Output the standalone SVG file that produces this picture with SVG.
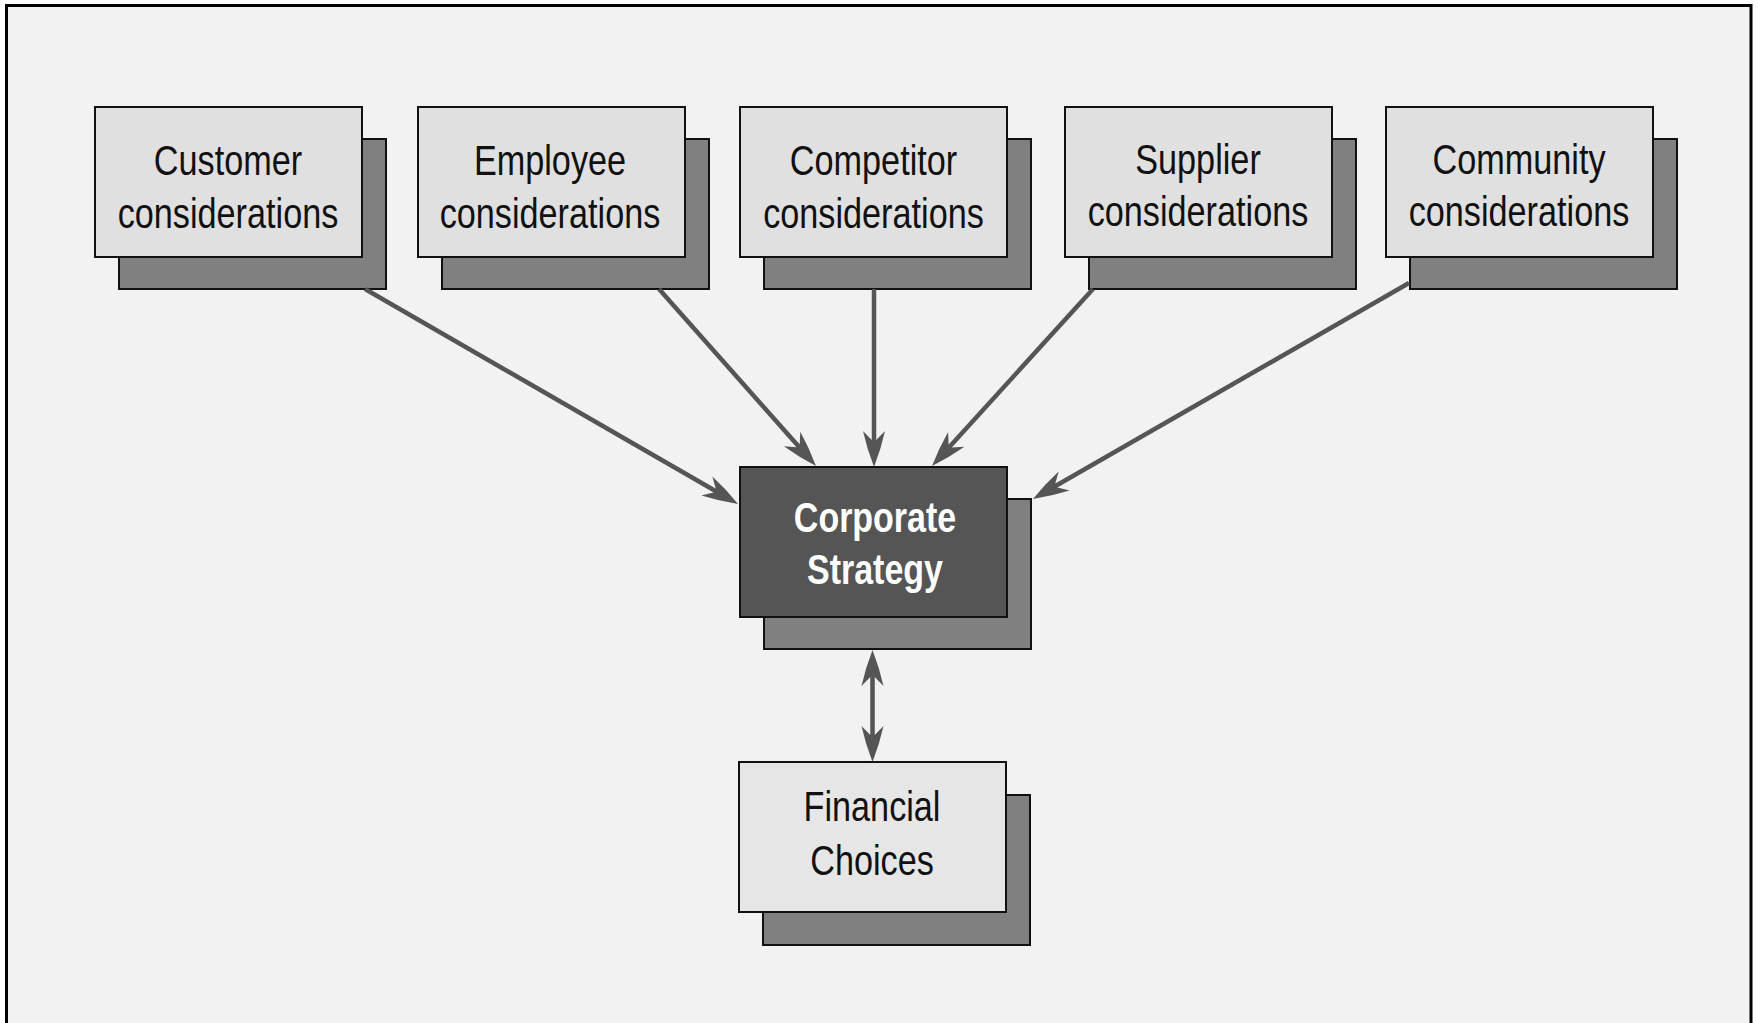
<svg xmlns="http://www.w3.org/2000/svg" width="1758" height="1023" viewBox="0 0 1758 1023">
  <style>
    .front { fill: #e0e0e0; stroke: #111; stroke-width: 2; }
    .fin { fill: #e6e6e6; stroke: #111; stroke-width: 2; }
    .shadow { fill: #808080; stroke: #111; stroke-width: 2; }
    .core { fill: #555555; stroke: #111; stroke-width: 2; }
    .lbl { font-family: "Liberation Sans", Arial, Helvetica, sans-serif; font-size: 42px; fill: #111; text-anchor: middle; }
    .lblw { font-family: "Liberation Sans", Arial, Helvetica, sans-serif; font-size: 43px; font-weight: bold; fill: #ffffff; text-anchor: middle; }
    .conn { stroke: #555555; stroke-width: 4.5; fill: none; }
  </style>
  <defs>
    <marker id="ah" markerUnits="userSpaceOnUse" markerWidth="60" markerHeight="30" viewBox="-20 -15 45 30" refX="0" refY="0" orient="auto-start-reverse">
      <path d="M20,0 Q2,-7 -16,-11 L-7,-2.2 L-7,2.2 L-16,11 Q2,7 20,0 Z" fill="#555555"/>
    </marker>
  </defs>
  <rect x="0" y="0" width="1758" height="1023" fill="#ffffff"/>
  <rect x="6.5" y="5.5" width="1744.5" height="1040" fill="#f2f2f2" stroke="#000" stroke-width="3"/>

  <g id="customer">
    <rect class="shadow" x="119" y="139" width="267" height="150"/>
    <rect class="front" x="95" y="107" width="267" height="150"/>
    <text class="lbl" transform="translate(228,175) scale(0.815,1)">Customer</text>
    <text class="lbl" transform="translate(228,228) scale(0.815,1)">considerations</text>
  </g>
  <g id="employee">
    <rect class="shadow" x="442" y="139" width="267" height="150"/>
    <rect class="front" x="418" y="107" width="267" height="150"/>
    <text class="lbl" transform="translate(550,175) scale(0.815,1)">Employee</text>
    <text class="lbl" transform="translate(550,228) scale(0.815,1)">considerations</text>
  </g>
  <g id="competitor">
    <rect class="shadow" x="764" y="139" width="267" height="150"/>
    <rect class="front" x="740" y="107" width="267" height="150"/>
    <text class="lbl" transform="translate(873.5,175) scale(0.815,1)">Competitor</text>
    <text class="lbl" transform="translate(873.5,228) scale(0.815,1)">considerations</text>
  </g>
  <g id="supplier">
    <rect class="shadow" x="1089" y="139" width="267" height="150"/>
    <rect class="front" x="1065" y="107" width="267" height="150"/>
    <text class="lbl" transform="translate(1198,174) scale(0.815,1)">Supplier</text>
    <text class="lbl" transform="translate(1198,226) scale(0.815,1)">considerations</text>
  </g>
  <g id="community">
    <rect class="shadow" x="1410" y="139" width="267" height="150"/>
    <rect class="front" x="1386" y="107" width="267" height="150"/>
    <text class="lbl" transform="translate(1519,174) scale(0.815,1)">Community</text>
    <text class="lbl" transform="translate(1519,226) scale(0.815,1)">considerations</text>
  </g>
  <g id="corporate">
    <rect class="shadow" x="764" y="499" width="267" height="150"/>
    <rect class="core" x="740" y="467" width="267" height="150"/>
    <text class="lblw" transform="translate(875,532) scale(0.79,1)">Corporate</text>
    <text class="lblw" transform="translate(875,584) scale(0.79,1)">Strategy</text>
  </g>
  <g id="financial">
    <rect class="shadow" x="763" y="795" width="267" height="150"/>
    <rect class="fin" x="739" y="762" width="267" height="150"/>
    <text class="lbl" transform="translate(872,821) scale(0.815,1)">Financial</text>
    <text class="lbl" transform="translate(872,875) scale(0.815,1)">Choices</text>
  </g>

  <g id="connectors">
    <line class="conn" x1="365" y1="289" x2="720.7" y2="494" marker-end="url(#ah)"/>
    <line class="conn" x1="659" y1="289" x2="802.7" y2="451" marker-end="url(#ah)"/>
    <line class="conn" x1="874" y1="289" x2="874" y2="447" marker-end="url(#ah)"/>
    <line class="conn" x1="1093" y1="289" x2="945.5" y2="451.2" marker-end="url(#ah)"/>
    <line class="conn" x1="1409" y1="283" x2="1050.3" y2="489" marker-end="url(#ah)"/>
    <line class="conn" x1="872.5" y1="670" x2="872.5" y2="742" marker-start="url(#ah)" marker-end="url(#ah)"/>
  </g>
</svg>
